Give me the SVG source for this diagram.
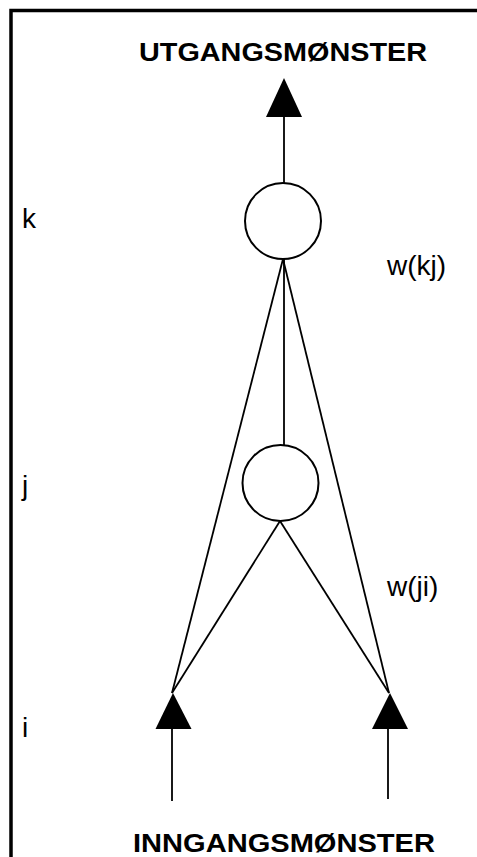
<svg xmlns="http://www.w3.org/2000/svg" width="477" height="857" viewBox="0 0 477 857">
<style>
.ln{stroke:#000;stroke-width:1.8;fill:none}
.nd{stroke:#000;stroke-width:2;fill:#fff}
.tri{fill:#000;stroke:none}
.lbl{font-family:"Liberation Sans",Arial,sans-serif;font-size:28px;fill:#000}
.ttl{font-family:"Liberation Sans",Arial,sans-serif;font-size:26px;font-weight:bold;fill:#000}
</style>
<rect x="0" y="0" width="477" height="857" fill="#fff"/>
<rect id="frame" x="11" y="10.5" width="500" height="900" fill="none" stroke="#000" stroke-width="3.5"/>
<g id="connectors">
<line class="ln" x1="284" y1="115" x2="284" y2="183"/>
<polygon class="tri" points="284,78 266,117 302,117"/>
<line class="ln" x1="284" y1="259" x2="284" y2="445"/>
<line class="ln" x1="283" y1="259" x2="172" y2="693"/>
<line class="ln" x1="283" y1="259" x2="389" y2="693"/>
<line class="ln" x1="280" y1="521" x2="172" y2="693"/>
<line class="ln" x1="280" y1="521" x2="389" y2="693"/>
<polygon class="tri" points="173,693 155.5,729 191.5,729"/>
<polygon class="tri" points="390,693 372,729 408,729"/>
<line class="ln" x1="172" y1="727" x2="172" y2="801"/>
<line class="ln" x1="388" y1="727" x2="388" y2="799"/>
</g>
<g id="node-k"><circle class="nd" cx="283" cy="221" r="38"/></g>
<g id="node-j"><circle class="nd" cx="280.5" cy="483" r="38"/></g>
<g id="labels">
<text class="ttl" x="139" y="61" textLength="288" lengthAdjust="spacingAndGlyphs">UTGANGSMØNSTER</text>
<text class="ttl" x="133" y="852" textLength="302" lengthAdjust="spacingAndGlyphs">INNGANGSMØNSTER</text>
<text class="lbl" x="22" y="228">k</text>
<text class="lbl" x="22" y="495">j</text>
<text class="lbl" x="22" y="737">i</text>
<text class="lbl" x="387" y="275">w(kj)</text>
<text class="lbl" x="387" y="596">w(ji)</text>
</g>
</svg>
